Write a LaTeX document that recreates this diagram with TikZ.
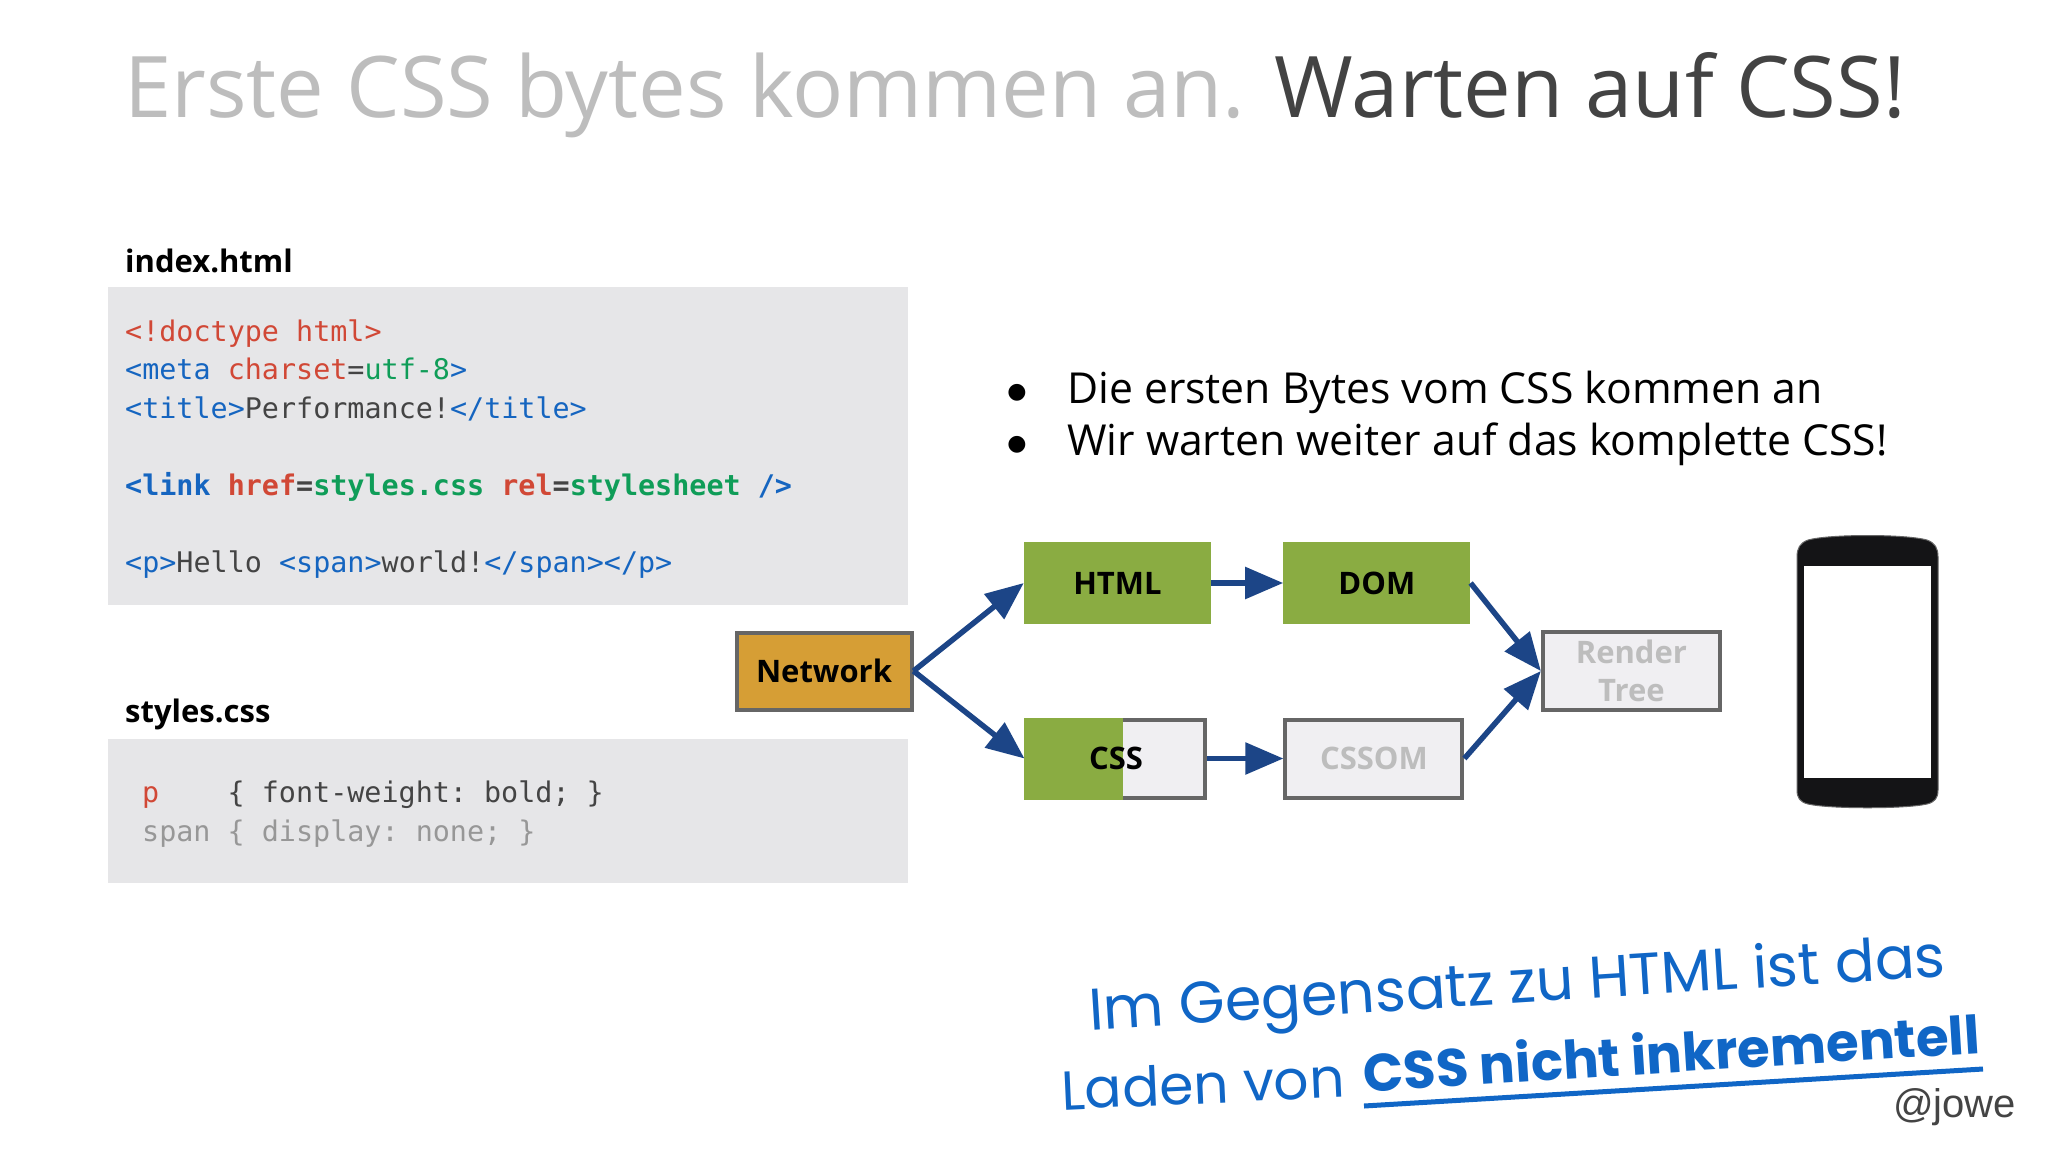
\documentclass[tikz,border=0pt]{standalone}
\usepackage{fontspec}
\setmainfont{Open Sans}
\setmonofont{DejaVu Sans Mono}
\newfontfamily\handfont{Poppins}
\newfontfamily\symfont{DejaVu Sans}
\newfontfamily\credfont{Liberation Sans}
\usetikzlibrary{arrows.meta}

\definecolor{titlegray}{HTML}{BDBDBD}
\definecolor{titledark}{HTML}{434343}
\definecolor{codebg}{HTML}{E6E6E8}
\definecolor{tagblue}{HTML}{1565C0}
\definecolor{attrred}{HTML}{D14836}
\definecolor{valgreen}{HTML}{0F9D58}
\definecolor{plaintext}{HTML}{444444}
\definecolor{netorange}{HTML}{D69E35}
\definecolor{stagegreen}{HTML}{8AAC42}
\definecolor{edgegray}{HTML}{666666}
\definecolor{pendingfill}{HTML}{F0EFF2}
\definecolor{arrowblue}{HTML}{1C4587}
\definecolor{handblue}{HTML}{1066C6}
\definecolor{phoneblack}{HTML}{141416}

\newcommand{\tagc}[1]{\textcolor{tagblue}{#1}}
\newcommand{\attrc}[1]{\textcolor{attrred}{#1}}
\newcommand{\valc}[1]{\textcolor{valgreen}{#1}}

\begin{document}
\begin{tikzpicture}[x=1pt,y=-1pt,
    line/.style={draw=arrowblue, -{Triangle[length=38pt,width=31pt]}, line width=5.5pt},
    codebox/.style={fill=codebg, anchor=north west, inner sep=0pt},
    codetext/.style={anchor=base west, align=left, inner sep=0pt, text=plaintext,
      font=\ttfamily\fontsize{28.4}{38.5}\selectfont},
    filename/.style={anchor=base west, inner sep=0pt, font=\bfseries\fontsize{31}{36}\selectfont},
    stage/.style={minimum width=187pt, minimum height=82pt, fill=stagegreen, inner sep=0pt,
      align=center, font=\bfseries\fontsize{31}{38}\selectfont},
    pending/.style={stage, draw=edgegray, line width=4pt, fill=pendingfill, text=titlegray,
      minimum width=177pt, minimum height=78pt},
    bullettext/.style={anchor=base west, inner sep=0pt, font=\fontsize{42.7}{50}\selectfont},
    bulletdot/.style={anchor=base, inner sep=0pt, font=\symfont\fontsize{22}{26}\selectfont},
    handtext/.style={anchor=base west, inner sep=0pt, rotate=3.6, text=handblue, font=\handfont\fontsize{58.8}{70}\selectfont},
    ]
    \useasboundingbox [fill=white] (0,0) rectangle (2048,1152);

    % Title
    \node [anchor=base west, inner sep=0pt, font=\fontsize{85}{100}\selectfont] (title) at (124,117)
      {\textcolor{titlegray}{Erste CSS bytes kommen an.} \textcolor{titledark}{Warten auf CSS!}};

    % Code panels
    \node [filename] (indexname) at (125,272) {index.html};
    \node [codebox, minimum width=800pt, minimum height=318pt] (indexbox) at (108,287) {};
    \node [codetext] (indexcode) at (125,572) {%
      \attrc{<!doctype html>}\\
      \tagc{<meta} \attrc{charset}=\valc{utf-8}\tagc{>}\\
      \tagc{<title>}Performance!\tagc{</title>}\\[38.5pt]
      \textbf{\tagc{<link} \attrc{href}=\valc{styles.css} \attrc{rel}=\valc{stylesheet} \tagc{/>}}\\[38.5pt]
      \tagc{<p>}Hello \tagc{<span>}world!\tagc{</span></p>}};

    \node [filename] (stylesname) at (125,722) {styles.css};
    \node [codebox, minimum width=800pt, minimum height=144pt] (stylesbox) at (108,739) {};
    \node [codetext] (stylescode) at (142,841) {%
      \attrc{p}\ \ \ \ \{ font-weight: bold; \}\\
      \textcolor{titlegray!80!black}{span \{ display: none; \}}};

    % Bullets
    \node [bulletdot] (dotone) at (1017,398) {●};
    \node [bullettext] (bulletone) at (1067,403) {Die ersten Bytes vom CSS kommen an};
    \node [bulletdot] (dottwo) at (1017,450) {●};
    \node [bullettext] (bullettwo) at (1067,455) {Wir warten weiter auf das komplette CSS!};

    % Place nodes
    \node [stage, fill=netorange, draw=edgegray, line width=4pt, minimum width=175pt, minimum height=77pt] (network) at (824,671) {Network};
    \node [stage, right of=network, xshift=265pt, yshift=88pt] (html) {HTML};
    \node [stage, right of=html, xshift=231pt] (dom) {DOM};
    \node [pending, minimum width=179pt, right of=network, xshift=263.5pt, yshift=-87.5pt] (css) {};
    \fill [stagegreen] (css.south west) rectangle ([xshift=99pt]css.north west);
    \node [inner sep=0pt, font=\bfseries\fontsize{31}{38}\selectfont] (csstext) at (css) {CSS};
    \node [pending, right of=css, xshift=229.5pt] (cssom) {CSSOM};
    \node [pending, right of=dom, xshift=226pt, yshift=-88pt] (render) {Render\\Tree};

    % Phone
    \fill [phoneblack, draw=edgegray, line width=1pt] (1797,557) .. controls (1797,548) and (1800,543) .. (1808,540)
      .. controls (1830,534) and (1905,534) .. (1927,540) .. controls (1935,543) and (1938,548) .. (1938,557)
      -- (1938,790) .. controls (1938,798) and (1935,802) .. (1927,804)
      .. controls (1905,809) and (1830,809) .. (1808,804) .. controls (1800,802) and (1797,798) .. (1797,790) -- cycle;
    \node [fill=white, minimum width=127pt, minimum height=212pt, inner sep=0pt] (screen) at (1867.5,672) {};

    % Draw edges
    \path [line] (network.east) -- (html.west);
    \path [line] (network.east) -- (css.west);
    \path [line] (html) -- (dom);
    \path [line] (css) -- (cssom);
    \path [line] (dom.east) -- (render.west);
    \path [line] (cssom.east) -- (render.west);

    % Handwritten note
    \node [handtext] (noteone) at (1090,1030) {Im Gegensatz zu HTML ist das};
    \node [handtext, rotate=-1, font=\handfont\fontsize{55}{70}\selectfont] (notetwo) at (1062,1110) {Laden von};
    \node [handtext, font=\handfont\bfseries\fontsize{53}{70}\selectfont] (notethree) at (1364,1092) {CSS nicht inkrementell};
    \coordinate (underlinestart) at (1364,1106);
    \coordinate (underlineend) at (1983,1069);
    \draw [handblue, line width=5pt] (underlinestart) -- (underlineend);
    \node [anchor=base west, inner sep=0pt, text=plaintext, font=\credfont\fontsize{40}{48}\selectfont] (credit) at (1893,1117) {@jowe};
  \end{tikzpicture}
\end{document}
